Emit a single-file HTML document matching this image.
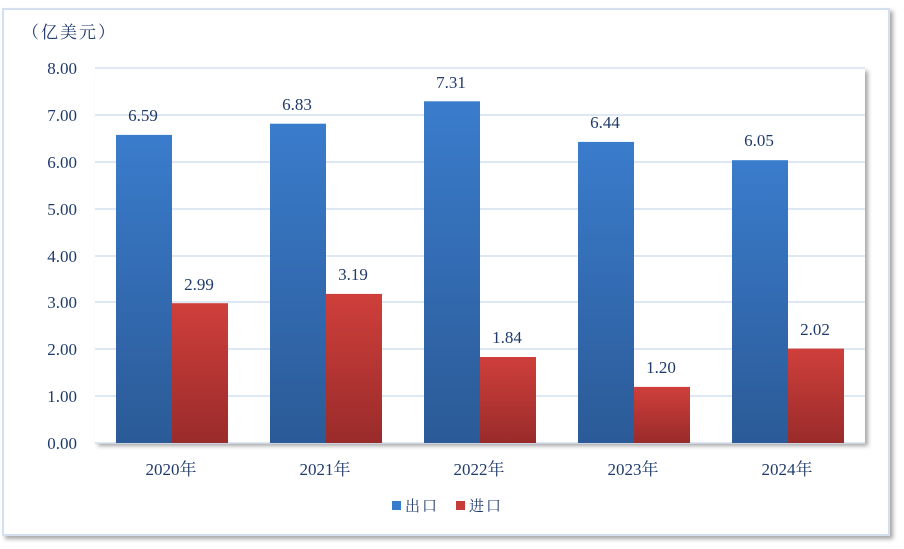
<!DOCTYPE html>
<html><head><meta charset="utf-8"><style>
body{margin:0;background:#fff;}
svg text{font-family:"Liberation Serif","Noto Serif CJK SC",serif;fill:#1f3a6b;}
</style></head><body>
<svg width="904" height="544" xmlns="http://www.w3.org/2000/svg">
<defs>
<linearGradient id="b" x1="0" y1="0" x2="0" y2="1"><stop offset="0" stop-color="#3a7ccc"/><stop offset="1" stop-color="#2b5a97"/></linearGradient>
<linearGradient id="r" x1="0" y1="0" x2="0" y2="1"><stop offset="0" stop-color="#cf3f3b"/><stop offset="1" stop-color="#992b2a"/></linearGradient>
<filter id="s" x="-5%" y="-5%" width="110%" height="110%"><feDropShadow dx="3" dy="3" stdDeviation="2" flood-color="#000" flood-opacity="0.35"/></filter>
</defs>
<rect x="3" y="9" width="886" height="526" fill="#fff" stroke="#d3e0f0" stroke-width="2" filter="url(#s)"/>
<rect x="95" y="68" width="770" height="375" fill="#fff" filter="url(#s)"/>
<g stroke="#d3e0f0" stroke-width="1.5">
<line x1="95" x2="865" y1="68" y2="68"/><line x1="95" x2="865" y1="115" y2="115"/><line x1="95" x2="865" y1="162" y2="162"/><line x1="95" x2="865" y1="209" y2="209"/><line x1="95" x2="865" y1="256" y2="256"/><line x1="95" x2="865" y1="302" y2="302"/><line x1="95" x2="865" y1="349" y2="349"/><line x1="95" x2="865" y1="396" y2="396"/><line x1="95" x2="865" y1="443" y2="443"/>
</g>
<text x="22" y="38" font-size="17" letter-spacing="2">（亿美元）</text>
<g font-size="17" text-anchor="end">
<text x="77" y="74">8.00</text><text x="77" y="121">7.00</text><text x="77" y="168">6.00</text><text x="77" y="215">5.00</text><text x="77" y="262">4.00</text><text x="77" y="308">3.00</text><text x="77" y="355">2.00</text><text x="77" y="402">1.00</text><text x="77" y="449">0.00</text>
</g>
<g>
<rect x="116" y="134.9" width="56" height="308.1" fill="url(#b)"/><rect x="172" y="303.2" width="56" height="139.8" fill="url(#r)"/>
<rect x="270" y="123.7" width="56" height="319.3" fill="url(#b)"/><rect x="326" y="293.9" width="56" height="149.1" fill="url(#r)"/>
<rect x="424" y="101.3" width="56" height="341.7" fill="url(#b)"/><rect x="480" y="357" width="56" height="86" fill="url(#r)"/>
<rect x="578" y="141.9" width="56" height="301.1" fill="url(#b)"/><rect x="634" y="386.9" width="56" height="56.1" fill="url(#r)"/>
<rect x="732" y="160.2" width="56" height="282.8" fill="url(#b)"/><rect x="788" y="348.6" width="56" height="94.4" fill="url(#r)"/>
</g>
<g font-size="17" text-anchor="middle">
<text x="143" y="121">6.59</text><text x="199" y="290">2.99</text>
<text x="297" y="110">6.83</text><text x="353" y="280">3.19</text>
<text x="451" y="88">7.31</text><text x="507" y="343">1.84</text>
<text x="605" y="128">6.44</text><text x="661" y="373">1.20</text>
<text x="759" y="146">6.05</text><text x="815" y="335">2.02</text>
<text x="171" y="475">2020年</text><text x="325" y="475">2021年</text><text x="479" y="475">2022年</text><text x="633" y="475">2023年</text><text x="787" y="475">2024年</text>
</g>
<rect x="392" y="501" width="9" height="9" fill="#3a7ccc"/>
<text x="405" y="511" font-size="15" letter-spacing="2">出口</text>
<rect x="456" y="501" width="9" height="9" fill="#c63c39"/>
<text x="469" y="511" font-size="15" letter-spacing="2">进口</text>
</svg>
</body></html>
